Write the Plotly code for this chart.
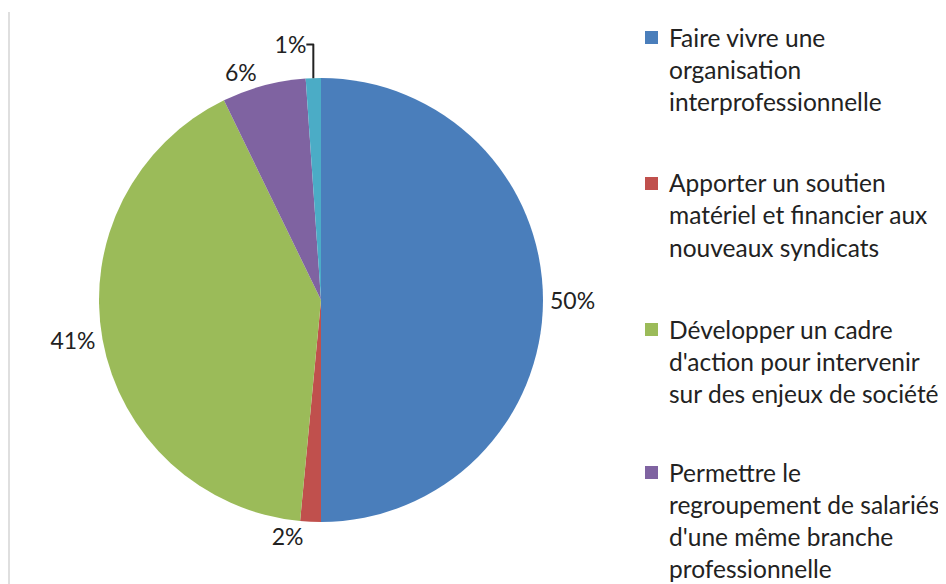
import plotly.graph_objects as go

# Data
labels = [
    "Faire vivre une\norganisation\ninterprofessionnelle",
    "Apporter un soutien\nmatériel et financier aux\nnouveaux syndicats",
    "Développer un cadre\nd'action pour intervenir\nsur des enjeux de société",
    "Permettre le\nregroupement de salariés\nd'une même branche\nprofessionnelle",
    "Autre",
]
values = [50.0, 1.5, 41.3, 6.1, 1.1]
colors = ['#4A7EBB', '#C0504D', '#9BBB59', '#7F63A1', '#4BACC6']

W, H = 946, 584
OFF = 8  # page body margin
FONT = 'Lato, Calibri, sans-serif'


def px_x(x):
    return (x - OFF) / W


def px_y(y):
    return 1 - (y - OFF) / H


fig = go.Figure()

fig.add_trace(go.Pie(
    labels=[l.replace("\n", " ") for l in labels],
    values=values,
    sort=False,
    direction='clockwise',
    rotation=0,
    marker=dict(colors=colors, line=dict(color='white', width=0)),
    textposition='outside',
    texttemplate='%{percent:.0%}',
    outsidetextfont=dict(family=FONT, size=23, color='#222222'),
    domain=dict(x=[px_x(99), px_x(543)], y=[px_y(522), px_y(78)]),
    showlegend=False,
    hovertemplate='%{label}: %{percent}<extra></extra>',
))

# Manual legend (the last entry is cut off below the visible area)
item_top = [37, 183, 329, 472]
line_h = 32
for i, lab in enumerate(labels[:4]):
    y0 = item_top[i]
    fig.add_shape(type='rect', xref='paper', yref='paper',
                  x0=px_x(645), x1=px_x(658),
                  y0=px_y(y0 + 7), y1=px_y(y0 - 6),
                  fillcolor=colors[i], line=dict(width=0))
    for j, line in enumerate(lab.split("\n")):
        fig.add_annotation(
            xref='paper', yref='paper',
            x=px_x(667), y=px_y(y0 + j * line_h),
            xanchor='left', yanchor='middle',
            text=line, showarrow=False,
            font=dict(family=FONT, size=24.5, color='#222222'),
        )

# Chart area border on the left
fig.add_shape(type='line', xref='paper', yref='paper',
              x0=px_x(9), x1=px_x(9), y0=0, y1=px_y(12),
              line=dict(color='#BFBFBF', width=1))

fig.update_layout(
    width=W, height=H,
    margin=dict(l=0, r=0, t=0, b=0),
    paper_bgcolor='white',
    plot_bgcolor='white',
)

fig.write_html("out.html")
